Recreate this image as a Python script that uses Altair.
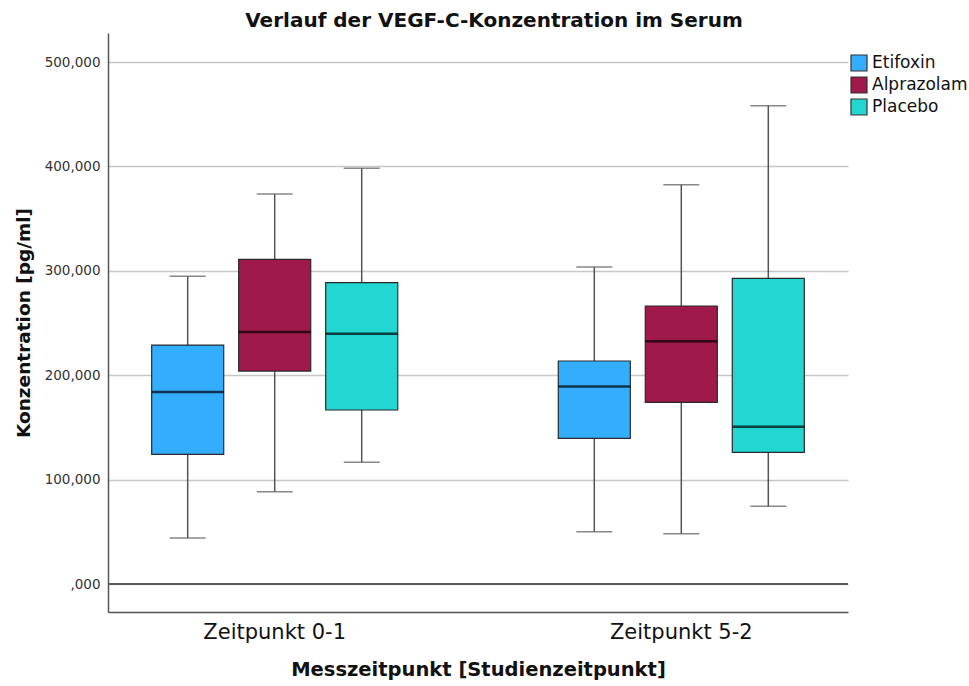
import altair as alt
import pandas as pd

# Measurement time points and treatment groups
zeitpunkte = ["Zeitpunkt 0-1", "Zeitpunkt 5-2"]
gruppen = ["Etifoxin", "Alprazolam", "Placebo"]
farben = ["#33AEFF", "#A0194B", "#22D6D2"]

# Box plot statistics per time point, ordered Etifoxin, Alprazolam, Placebo (pg/ml)
minimum = {
    "Zeitpunkt 0-1": [44.1, 88.4, 116.6],
    "Zeitpunkt 5-2": [50.1, 48.2, 74.4],
}
q1 = {
    "Zeitpunkt 0-1": [124.2, 204.0, 166.7],
    "Zeitpunkt 5-2": [139.6, 174.0, 126.1],
}
median = {
    "Zeitpunkt 0-1": [183.9, 241.4, 239.8],
    "Zeitpunkt 5-2": [189.3, 232.5, 150.7],
}
q3 = {
    "Zeitpunkt 0-1": [228.9, 311.0, 288.6],
    "Zeitpunkt 5-2": [213.6, 266.3, 292.8],
}
maximum = {
    "Zeitpunkt 0-1": [294.7, 373.6, 398.2],
    "Zeitpunkt 5-2": [303.6, 382.5, 458.2],
}

rows = []
for z in zeitpunkte:
    for i, g in enumerate(gruppen):
        rows.append({
            "Zeitpunkt": z, "Gruppe": g,
            "min": minimum[z][i], "q1": q1[z][i], "median": median[z][i],
            "q3": q3[z][i], "max": maximum[z][i],
        })
df = pd.DataFrame(rows)

FONT = "DejaVu Sans"
y_scale = alt.Scale(domain=[-26.8, 527.8], nice=False, zero=False)

base = alt.Chart(df).encode(
    x=alt.X(
        "Zeitpunkt:N",
        sort=zeitpunkte,
        scale=alt.Scale(paddingInner=0.18, paddingOuter=0),
        axis=alt.Axis(
            title="Messzeitpunkt [Studienzeitpunkt]",
            labelAngle=0, labelFontSize=21, labelFont=FONT, labelColor="#111",
            labelPadding=9, ticks=False,
            domainColor="#555", domainWidth=1.5,
            titleFont=FONT, titleFontSize=19.5, titleFontWeight="bold",
            titleColor="#111", titlePadding=18,
        ),
    ),
    xOffset=alt.XOffset(
        "Gruppe:N", sort=gruppen,
        scale=alt.Scale(paddingInner=0.172, paddingOuter=0.502),
    ),
)

y_axis = alt.Axis(
    title="Konzentration [pg/ml]",
    values=[0, 100, 200, 300, 400, 500],
    labelExpr="datum.value == 0 ? ',000' : replace(format(datum.value, '.3f'), '.', ',')",
    labelFont=FONT, labelFontSize=13.5, labelColor="#333", labelPadding=8,
    ticks=False, domainColor="#555", domainWidth=1.5,
    grid=True, gridColor="#c8c8c8", gridWidth=1.5,
    titleFont=FONT, titleFontSize=18.5, titleFontWeight="bold",
    titleColor="#111", titlePadding=11,
)

# Whiskers from the box edges out to the minimum and maximum
whisker_low = base.mark_rule(color="#555", strokeWidth=1.5).encode(
    y=alt.Y("min:Q", scale=y_scale, axis=y_axis), y2="q1:Q"
)
whisker_high = base.mark_rule(color="#555", strokeWidth=1.5).encode(
    y="q3:Q", y2="max:Q"
)
cap_low = base.mark_tick(color="#555", size=36, thickness=1.5).encode(y="min:Q")
cap_high = base.mark_tick(color="#555", size=36, thickness=1.5).encode(y="max:Q")

# Interquartile boxes
boxes = base.mark_bar(stroke="#2a2a2a", strokeWidth=1.2).encode(
    y="q1:Q",
    y2="q3:Q",
    color=alt.Color(
        "Gruppe:N",
        sort=gruppen,
        scale=alt.Scale(domain=gruppen, range=farben),
        legend=alt.Legend(
            title=None, orient="none", legendX=742, legendY=21,
            symbolType="square", symbolSize=256, symbolStrokeColor="#333",
            symbolStrokeWidth=1.2, symbolOpacity=1,
            labelFont=FONT, labelFontSize=17, labelColor="#111",
            labelOffset=4, rowPadding=0, padding=0,
        ),
    ),
)

medians = base.mark_tick(color="#000", size=72, thickness=2.5).encode(y="median:Q")

# Baseline at zero
zero_line = alt.Chart(df).mark_rule(color="#5a5a5a", strokeWidth=2).encode(
    y=alt.datum(0)
)

chart = alt.layer(
    zero_line, whisker_low, whisker_high, cap_low, cap_high, boxes, medians
).properties(
    width=740,
    height=579,
    background="white",
    autosize=alt.AutoSizeParams(type="none"),
    padding={"left": 108, "top": 33, "right": 121, "bottom": 74},
    title=alt.Title(
        "Verlauf der VEGF-C-Konzentration im Serum",
        font=FONT, fontSize=20, fontWeight="bold", color="#111",
        anchor="middle", dx=16, offset=2,
    ),
).configure_view(strokeWidth=0, stroke="transparent")

chart.save("out.html", embed_options={"renderer": "svg", "actions": False})
